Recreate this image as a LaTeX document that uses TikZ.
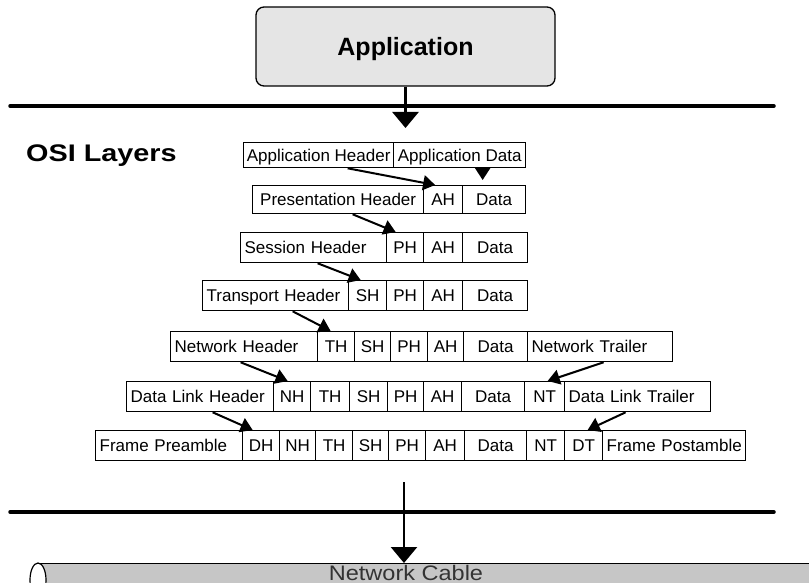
\documentclass[tikz,border=0pt]{standalone}
\usepackage{fontspec}
\setmainfont{Liberation Sans}
\newfontfamily\cellfont{Liberation Sans}
\newfontfamily\titlefont[FakeStretch=1.2]{Liberation Sans}
\newfontfamily\appfont{Liberation Sans}
\newfontfamily\cablefont[FakeStretch=1.12]{Liberation Sans}
\usetikzlibrary{arrows.meta,calc}
\tikzset{
  cell/.style={draw, line width=1.3pt, minimum height=30pt, inner sep=0pt,
    text height=12.5pt, text depth=0pt, anchor=north west,
    font=\cellfont\fontsize{17}{20}\selectfont},
  cellL/.style={cell, align=left, inner xsep=4pt, text width=#1},
  arr/.style={line width=2pt, -{Triangle[length=12pt,width=15pt]}},
  bigarr/.style={line width=2.6pt, -{Triangle[length=16pt,width=26pt]}},
  rule/.style={line width=3.5pt, line cap=round},
  appbox/.style={draw, line width=1.3pt, rounded corners=8pt, fill=gray!20,
    minimum width=299pt, minimum height=79pt, inner sep=0pt,
    text height=18pt, text depth=0pt,
    font=\appfont\bfseries\fontsize{25}{29}\selectfont},
}
\begin{document}
\begin{tikzpicture}[x=1pt,y=-1pt]
\useasboundingbox (0,0) rectangle (809,583);
\clip (0,0) rectangle (809,583);

% Application box and top rule
\node[appbox] (app) at (405.5,46.5) {Application};
\coordinate (hl1) at (10,106);
\coordinate (hr1) at (774,106);
\draw[rule] (hl1) -- (hr1);
\coordinate (t1) at (405.5,128);
\draw[bigarr] (app.south) -- (t1);

% title
\node[anchor=base west, inner sep=0pt, font=\titlefont\bfseries\fontsize{24}{28}\selectfont] (osi) at (26,161) {OSI Layers};

% Row 1
\node[cell, minimum height=25pt, minimum width=150pt] (r1a) at (243,142) {Application Header};
\node[cell, minimum height=25pt, minimum width=132pt] (r1b) at (393,142) {Application Data};
% Row 2
\node[cell, minimum height=28pt, minimum width=171pt] (r2a) at (252,185) {Presentation Header};
\node[cell, minimum height=28pt, minimum width=39pt] (r2b) at (423,185) {AH};
\node[cell, minimum height=28pt, minimum width=63pt] (r2c) at (462,185) {Data};
% Row 3
\node[cellL=138pt] (r3a) at (240,232) {\mbox{Session Header}};
\node[cell, minimum width=37pt] (r3b) at (386,232) {PH};
\node[cell, minimum width=39pt] (r3c) at (423,232) {AH};
\node[cell, minimum width=65pt] (r3d) at (462,232) {Data};
% Row 4
\node[cellL=138pt] (r4a) at (202,280) {\mbox{Transport Header}};
\node[cell, minimum width=38pt] (r4b) at (348,280) {SH};
\node[cell, minimum width=37pt] (r4c) at (386,280) {PH};
\node[cell, minimum width=39pt] (r4d) at (423,280) {AH};
\node[cell, minimum width=65pt] (r4e) at (462,280) {Data};
% Row 5
\node[cellL=139pt] (r5a) at (170,331) {\mbox{Network Header}};
\node[cell, minimum width=37pt] (r5b) at (317,331) {TH};
\node[cell, minimum width=36pt] (r5c) at (354,331) {SH};
\node[cell, minimum width=37pt] (r5d) at (390,331) {PH};
\node[cell, minimum width=36pt] (r5e) at (427,331) {AH};
\node[cell, minimum width=64pt] (r5f) at (463,331) {Data};
\node[cellL=137pt] (r5g) at (527,331) {\mbox{Network Trailer}};
% Row 6
\node[cellL=139pt] (r6a) at (126,381) {\mbox{Data Link Header}};
\node[cell, minimum width=37pt] (r6b) at (273,381) {NH};
\node[cell, minimum width=39pt] (r6c) at (310,381) {TH};
\node[cell, minimum width=38pt] (r6d) at (349,381) {SH};
\node[cell, minimum width=36pt] (r6e) at (387,381) {PH};
\node[cell, minimum width=38pt] (r6f) at (423,381) {AH};
\node[cell, minimum width=63pt] (r6g) at (461,381) {Data};
\node[cell, minimum width=40pt] (r6h) at (524,381) {NT};
\node[cellL=138pt] (r6i) at (564,381) {\mbox{Data Link Trailer}};
% Row 7
\node[cellL=139pt] (r7a) at (95,430) {\mbox{Frame Preamble}};
\node[cell, minimum width=37pt] (r7b) at (242,430) {DH};
\node[cell, minimum width=36pt] (r7c) at (279,430) {NH};
\node[cell, minimum width=37pt] (r7d) at (315,430) {TH};
\node[cell, minimum width=36pt] (r7e) at (352,430) {SH};
\node[cell, minimum width=37pt] (r7f) at (388,430) {PH};
\node[cell, minimum width=39pt] (r7g) at (425,430) {AH};
\node[cell, minimum width=62pt] (r7h) at (464,430) {Data};
\node[cell, minimum width=38pt] (r7i) at (526,430) {NT};
\node[cell, minimum width=38pt] (r7j) at (564,430) {DT};
\node[cellL=135pt] (r7k) at (602,430) {\mbox{Frame Postamble}};

% encapsulation arrows
\draw[arr] ([xshift=29pt]r1a.south) -- ([xshift=-8pt]r2b.north);
\draw[arr] ([xshift=23pt]r1b.south) -- ([xshift=-11.5pt,yshift=5pt]r2c.north);
\draw[arr] ([xshift=14.5pt]r2a.south) -- ([xshift=-9.5pt]r3b.north);
\draw[arr] ([xshift=4pt]r3a.south) -- ([xshift=-7pt]r4b.north);
\draw[arr] ([xshift=17pt]r4a.south) -- ([xshift=-5.5pt]r5b.north);
\draw[arr] ([xshift=-3.5pt]r5a.south) -- ([xshift=-4.5pt]r6b.north);
\draw[arr] ([xshift=3.5pt]r5g.south) -- ([xshift=3pt]r6h.north);
\draw[arr] ([xshift=12.5pt]r6a.south) -- ([xshift=-8.5pt]r7b.north);
\draw[arr] ([xshift=-12pt]r6i.south) -- ([xshift=4pt]r7j.north);

% bottom rule and cable
\coordinate (hl2) at (10,512);
\coordinate (hr2) at (774,512);
\draw[rule] (hl2) -- (hr2);
\node[draw, line width=1.2pt, fill=gray!45, anchor=north west, minimum width=800pt, minimum height=40pt, inner sep=0pt] (cable) at (38,563) {};
\draw[line width=1.2pt, fill=white] (38,580) ellipse [x radius=8pt, y radius=17pt];
\node[anchor=base, inner sep=0pt, text=black!80, font=\cablefont\fontsize{21}{24}\selectfont] (cabletext) at (406,580) {Network Cable};
\coordinate (b0) at (404,482);
\draw[bigarr] (b0) -- (b0 |- cable.north);
\end{tikzpicture}
\end{document}
